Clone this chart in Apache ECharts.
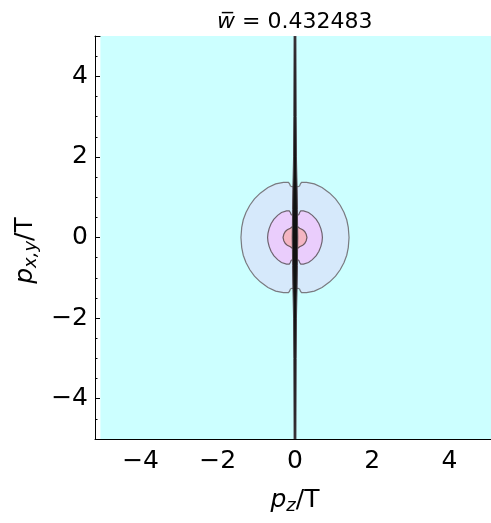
<!DOCTYPE html>
<html><head><meta charset="utf-8">
<script src="https://cdn.jsdelivr.net/npm/echarts@6/dist/echarts.min.js"></script>
<style>html,body{margin:0;padding:0;background:#fff}#c{width:491px;height:523px}</style>
</head><body><div id="c"></div>
<script>
// ---- data ----
const titleValue = '0.432483';
const xMajorTicks = [-4, -2, 0, 2, 4];
const xMinorTicks = [-5, -4.5, -3.5, -3, -2.5, -1.5, -1, -0.5, 0.5, 1, 1.5, 2.5, 3, 3.5, 4.5, 5];
const yMajorTicks = [-4, -2, 0, 2, 4];
const yMinorTicks = [-5, -4.5, -3.5, -3, -2.5, -1.5, -1, -0.5, 0.5, 1, 1.5, 2.5, 3, 3.5, 4.5, 5];
const xRange = [-5.18, 5.18];
const yRange = [-5, 5];
// plotted region (lowest contour level fills it)
const regionX = [-5.04, 5.1];
const regionY = [-5, 5];
// contour level 1 (light blue)
const outerContour = [
  [0, 1.27], [0.08, 1.26], [0.12, 1.28], [0.14, 1.33], [0.17, 1.37], [0.3, 1.37], [0.5, 1.33],
  [0.7, 1.24], [0.9, 1.10], [1.05, 0.96], [1.17, 0.80], [1.27, 0.62], [1.34, 0.44], [1.38, 0.25],
  [1.40, 0], [1.38, -0.25], [1.34, -0.44], [1.27, -0.62], [1.17, -0.80], [1.05, -0.96], [0.9, -1.10],
  [0.7, -1.24], [0.5, -1.33], [0.3, -1.37], [0.17, -1.37], [0.14, -1.33], [0.12, -1.28], [0.08, -1.26],
  [0, -1.27], [-0.08, -1.26], [-0.12, -1.28], [-0.14, -1.33], [-0.17, -1.37], [-0.3, -1.37], [-0.5, -1.33],
  [-0.7, -1.24], [-0.9, -1.10], [-1.05, -0.96], [-1.17, -0.80], [-1.27, -0.62], [-1.34, -0.44], [-1.38, -0.25],
  [-1.40, 0], [-1.38, 0.25], [-1.34, 0.44], [-1.27, 0.62], [-1.17, 0.80], [-1.05, 0.96], [-0.9, 1.10],
  [-0.7, 1.24], [-0.5, 1.33], [-0.3, 1.37], [-0.17, 1.37], [-0.14, 1.33], [-0.12, 1.28], [-0.08, 1.26]
];
// contour level 2 (violet)
const middleContour = [
  [0, 0.55], [0.06, 0.55], [0.1, 0.57], [0.12, 0.62], [0.15, 0.66], [0.22, 0.66], [0.35, 0.62],
  [0.45, 0.55], [0.55, 0.45], [0.62, 0.34], [0.67, 0.22], [0.70, 0.1], [0.71, 0], [0.70, -0.1],
  [0.67, -0.22], [0.62, -0.34], [0.55, -0.45], [0.45, -0.55], [0.35, -0.62], [0.22, -0.66], [0.15, -0.66],
  [0.12, -0.62], [0.1, -0.57], [0.06, -0.55], [0, -0.55], [-0.06, -0.55], [-0.1, -0.57], [-0.12, -0.62],
  [-0.15, -0.66], [-0.22, -0.66], [-0.35, -0.62], [-0.45, -0.55], [-0.55, -0.45], [-0.62, -0.34], [-0.67, -0.22],
  [-0.70, -0.1], [-0.71, 0], [-0.70, 0.1], [-0.67, 0.22], [-0.62, 0.34], [-0.55, 0.45], [-0.45, 0.55],
  [-0.35, 0.62], [-0.22, 0.66], [-0.15, 0.66], [-0.12, 0.62], [-0.1, 0.57], [-0.06, 0.55]
];
// contour level 3 (salmon)
const innerContour = [
  [0.04, 0.28], [0.08, 0.26], [0.12, 0.23], [0.2, 0.19], [0.25, 0.15], [0.29, 0.08], [0.31, 0],
  [0.29, -0.08], [0.25, -0.15], [0.2, -0.19], [0.12, -0.23], [0.08, -0.26], [0.04, -0.28],
  [-0.04, -0.28], [-0.08, -0.26], [-0.12, -0.23], [-0.2, -0.19], [-0.25, -0.15], [-0.29, -0.08], [-0.31, 0],
  [-0.29, 0.08], [-0.25, 0.15], [-0.2, 0.19], [-0.12, 0.23], [-0.08, 0.26], [-0.04, 0.28]
];
// highest level: narrow dark spike along p_z = 0
const spikeContour = [
  [0.024, 5], [0.03, 3], [0.038, 2], [0.048, 1.5], [0.055, 1.2], [0.062, 0.7], [0.067, 0.3], [0.072, 0],
  [0.067, -0.3], [0.062, -0.7], [0.055, -1.2], [0.048, -1.5], [0.038, -2], [0.03, -3], [0.024, -5],
  [-0.024, -5], [-0.03, -3], [-0.038, -2], [-0.048, -1.5], [-0.055, -1.2], [-0.062, -0.7], [-0.067, -0.3], [-0.072, 0],
  [-0.067, 0.3], [-0.062, 0.7], [-0.055, 1.2], [-0.048, 1.5], [-0.038, 2], [-0.03, 3], [-0.024, 5]
];

// ---- chart ----
const FONT = 'DejaVu Sans';
const chart = echarts.init(document.getElementById('c'), null, { renderer: 'canvas' });
const regionPoly = [[regionX[0], regionY[0]], [regionX[1], regionY[0]], [regionX[1], regionY[1]], [regionX[0], regionY[1]]];

function poly(points, fill, stroke, lw, z) {
  return {
    type: 'custom', coordinateSystem: 'cartesian2d', xAxisIndex: 0, yAxisIndex: 0,
    data: [[0, 0]], encode: { x: 0, y: 1 }, silent: true, z: z, clip: true,
    renderItem: function (params, api) {
      return {
        type: 'polygon',
        shape: { points: points.map(function (p) { return api.coord(p); }) },
        style: { fill: fill, stroke: stroke || 'none', lineWidth: lw }
      };
    }
  };
}
const fmt = function (v) { return v < 0 ? '\u2212' + Math.abs(v) : String(v); };
function xAx(pos, ticks, len, showLine, label, extra) {
  return Object.assign({
    type: 'value', position: pos, min: xRange[0], max: xRange[1],
    axisLine: { show: showLine, onZero: false, lineStyle: { color: '#000', width: 1 } },
    axisTick: { show: true, inside: true, length: len, customValues: ticks, lineStyle: { color: '#000', width: 1 } },
    axisLabel: label ? { show: true, customValues: ticks, formatter: fmt, fontFamily: FONT, fontSize: 25, color: '#000', margin: 10 } : { show: false },
    splitLine: { show: false }
  }, extra || {});
}
function yAx(pos, ticks, len, showLine, label, extra) {
  return Object.assign({
    type: 'value', position: pos, min: yRange[0], max: yRange[1],
    axisLine: { show: showLine, onZero: false, lineStyle: { color: '#000', width: 1 } },
    axisTick: { show: len > 0, inside: true, length: len, customValues: ticks, lineStyle: { color: '#000', width: 1 } },
    axisLabel: label ? { show: true, customValues: ticks, formatter: fmt, fontFamily: FONT, fontSize: 25, color: '#000', margin: 7 } : { show: false },
    splitLine: { show: false }
  }, extra || {});
}
const nameRich = {
  i: { fontFamily: FONT, fontSize: 25, fontStyle: 'italic', color: '#000' },
  s: { fontFamily: FONT, fontSize: 18, fontStyle: 'italic', color: '#000', padding: [12, 0, 0, 0] },
  n: { fontFamily: FONT, fontSize: 25, color: '#000' }
};

chart.setOption({
  animation: false,
  backgroundColor: '#fff',
  title: {
    text: '{i|w\u0305}{n| = ' + titleValue + '}',
    left: 212, top: 6,
    textStyle: {
      fontWeight: 'normal',
      rich: {
        i: { fontFamily: FONT, fontSize: 22, fontStyle: 'italic', fontWeight: 'normal', color: '#000' },
        n: { fontFamily: FONT, fontSize: 22, fontWeight: 'normal', color: '#000' }
      }
    }
  },
  grid: { left: 95, top: 36, width: 400, height: 403, containLabel: false, outerBoundsMode: 'none' },
  xAxis: [
    xAx('bottom', xMajorTicks, 5, true, true, {
      name: '{i|p}{s|z}{n|/T}', nameLocation: 'middle', nameGap: 46,
      nameTextStyle: { rich: nameRich }
    }),
    xAx('bottom', xMinorTicks, 2.5, false, false),
    xAx('top', xMajorTicks, 5, true, false),
    xAx('top', xMinorTicks, 2.5, false, false)
  ],
  yAxis: [
    yAx('left', yMajorTicks, 5, true, true, {
      name: '{i|p}{s|x,y}{n|/T}', nameLocation: 'middle', nameGap: 55, nameRotate: 90,
      nameTextStyle: { rich: nameRich, padding: [0, 26, 0, 0] }
    }),
    yAx('left', yMinorTicks, 2.5, false, false),
    yAx('right', yMajorTicks, 0, false, false)
  ],
  series: [
    poly(regionPoly, '#ccffff', null, 0, 1),
    poly(outerContour, '#d6e9fb', '#7a7a80', 1.2, 2),
    poly(middleContour, '#eacdfc', '#6e6470', 1.2, 3),
    poly(innerContour, '#f4b5c2', '#6e5a60', 1.2, 4),
    poly(spikeContour, '#111111', '#4a4048', 1, 5)
  ]
});
</script>
</body></html>
